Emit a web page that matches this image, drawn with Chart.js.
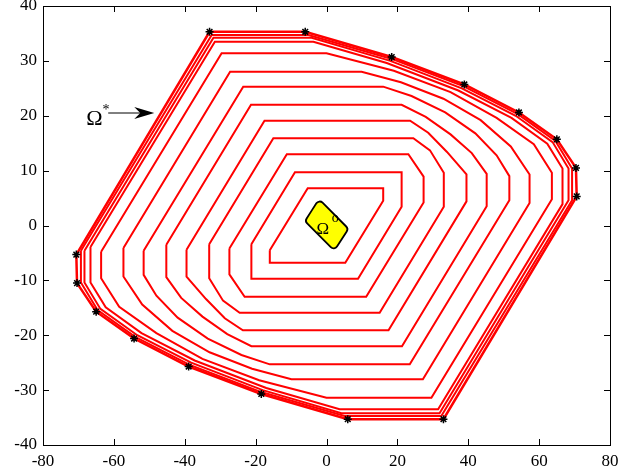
<!DOCTYPE html>
<html>
<head>
<meta charset="utf-8">
<script src="https://cdn.jsdelivr.net/npm/chart.js@4.4.0/dist/chart.umd.min.js"></script>
<style>
  html, body { margin: 0; padding: 0; background: #fff; }
</style>
</head>
<body>
<canvas id="chart" width="639" height="473"></canvas>
<script>
// Contornos (de fuera hacia dentro), vertices [x, y]
const contour01 = [[-70.6,-5.3],[-33,35.3],[-6,35.3],[18.4,30.7],[38.9,25.7],[54.3,20.6],[65,15.7],[70.4,10.5],[70.6,5.3],[33,-35.3],[6,-35.3],[-18.4,-30.7],[-38.9,-25.7],[-54.3,-20.6],[-65,-15.7],[-70.4,-10.5]];
const contour02 = [[-69.3,-4.6],[-32.4,34.7],[-5.1,34.7],[18.2,30.4],[38.6,25.4],[54,20.3],[64.6,15.4],[69.3,10.4],[69.3,4.6],[32.4,-34.7],[5.1,-34.7],[-18.2,-30.4],[-38.6,-25.4],[-54,-20.3],[-64.6,-15.4],[-69.3,-10.4]];
const contour03 = [[-68.3,-4.6],[-31.9,34.2],[-4.2,34.2],[18,30],[38.2,25],[53.4,20],[63.8,15.2],[68.3,10.4],[68.3,4.6],[31.9,-34.2],[4.2,-34.2],[-18,-30],[-38.2,-25],[-53.4,-20],[-63.8,-15.2],[-68.3,-10.4]];
const contour04 = [[-66.6,-3.9],[-31.5,33.5],[-3.7,33.5],[17,29.6],[37.2,24.6],[52.2,19.6],[62.3,14.9],[66.6,10.4],[66.6,3.9],[31.5,-33.5],[3.7,-33.5],[-17,-29.6],[-37.2,-24.6],[-52.2,-19.6],[-62.3,-14.9],[-66.6,-10.4]];
const contour05 = [[-63.6,-4.8],[-29.6,31.4],[0,31.4],[19,28.2],[35,24.3],[48,19.6],[58.5,14.8],[63.6,9.6],[63.6,4.8],[29.6,-31.4],[0,-31.4],[-19,-28.2],[-35,-24.3],[-48,-19.6],[-58.5,-14.8],[-63.6,-9.6]];
const contour06 = [[-57.3,-4.1],[-27.2,28],[9.9,28],[21,26.1],[33,23.1],[43.5,19.2],[52,14.4],[57.3,9.3],[57.3,4.1],[27.2,-28],[-9.9,-28],[-21,-26.1],[-33,-23.1],[-43.5,-19.2],[-52,-14.4],[-57.3,-9.3]];
const contour07 = [[-51.6,-4.6],[-23.5,25.3],[16,25.3],[24,23.6],[33.5,20.6],[42,16.8],[48,12.8],[51.6,9],[51.6,4.6],[23.5,-25.3],[-16,-25.3],[-24,-23.6],[-33.5,-20.6],[-42,-16.8],[-48,-12.8],[-51.6,-9]];
const contour08 = [[-45.2,-3.5],[-21.3,22],[21.2,22],[28,19.8],[35,16.6],[41,13.2],[45.2,9.4],[45.2,3.5],[21.3,-22],[-21.2,-22],[-28,-19.8],[-35,-16.6],[-41,-13.2],[-45.2,-9.4]];
const contour09 = [[-39.5,-4.4],[-17.5,19.1],[23.6,19.1],[28.7,16.9],[34,13.4],[39.5,9.3],[39.5,4.4],[17.5,-19.1],[-23.6,-19.1],[-28.7,-16.9],[-34,-13.4],[-39.5,-9.3]];
const contour10 = [[-33.1,-3.4],[-15,15.9],[24.5,15.9],[29.2,13.7],[33.1,9.6],[33.1,3.4],[15,-15.9],[-24.5,-15.9],[-29.2,-13.7],[-33.1,-9.6]];
const contour11 = [[-27.4,-4.2],[-11.2,13],[23.1,13],[27.4,8.9],[27.4,4.2],[11.2,-13],[-23.1,-13],[-27.4,-8.9]];
const contour12 = [[-21.2,-3.4],[-8.9,9.7],[21.2,9.7],[21.2,3.4],[8.9,-9.7],[-21.2,-9.7]];
const contour13 = [[-16,-4.5],[-5.3,6.8],[16,6.8],[16,4.5],[5.3,-6.8],[-16,-6.8]];

// Conjunto inicial (rombo amarillo)
const omegaO = [[-2.1,4.8],[6.2,-0.6],[2.2,-4.6],[-6.1,0.8]];

// Ejes
const xTicks = [-80, -60, -40, -20, 0, 20, 40, 60, 80];
const yTicks = [-40, -30, -20, -10, 0, 10, 20, 30, 40];

const contours = [contour01, contour02, contour03, contour04, contour05, contour06, contour07,
  contour08, contour09, contour10, contour11, contour12, contour13];

function toPoints(arr, close) {
  const pts = arr.map(p => ({ x: p[0], y: p[1] }));
  if (close) pts.push({ x: arr[0][0], y: arr[0][1] });
  return pts;
}

const datasets = [];
// asteriscos en los vertices del contorno exterior
datasets.push({
  data: toPoints(contour01, false),
  showLine: false,
  pointStyle: "star",
  pointRadius: 4,
  borderColor: "#000",
  borderWidth: 1.5,
  order: 0,
});
contours.forEach((c, i) => {
  datasets.push({
    data: toPoints(c, true),
    showLine: true,
    borderColor: "#ff0000",
    borderWidth: i === 0 ? 2.5 : 2,
    pointRadius: 0,
    tension: 0,
    fill: false,
    order: 1,
  });
});

const serif = "'Liberation Serif', 'DejaVu Serif', serif";

// Marco, ticks interiores y anotaciones
const boxPlugin = {
  id: "boxPlugin",
  afterDatasetsDraw(chart) {
    const { ctx, chartArea: a, scales } = chart;
    const sx = scales.x, sy = scales.y;

    // Omega cero
    ctx.save();
    const pts = omegaO.map(p => [sx.getPixelForValue(p[0]), sy.getPixelForValue(p[1])]);
    const r = 4;
    ctx.beginPath();
    const n = pts.length;
    const mid = (p, q) => [(p[0] + q[0]) / 2, (p[1] + q[1]) / 2];
    const m0 = mid(pts[n - 1], pts[0]);
    ctx.moveTo(m0[0], m0[1]);
    for (let i = 0; i < n; i++) {
      const nxt = pts[(i + 1) % n];
      const m = mid(pts[i], nxt);
      ctx.arcTo(pts[i][0], pts[i][1], m[0], m[1], r);
    }
    ctx.closePath();
    ctx.fillStyle = "#ffff00";
    ctx.fill();
    ctx.lineWidth = 1.8;
    ctx.strokeStyle = "#000";
    ctx.stroke();

    ctx.fillStyle = "#000";
    ctx.font = "17px " + serif;
    ctx.textAlign = "left";
    ctx.textBaseline = "alphabetic";
    ctx.fillText("Ω", sx.getPixelForValue(-2.8), sy.getPixelForValue(-1.5));
    ctx.font = "14px " + serif;
    ctx.fillText("o", sx.getPixelForValue(1.5), sy.getPixelForValue(0.7));

    // Omega estrella con flecha
    ctx.font = "22px " + serif;
    ctx.textAlign = "right";
    ctx.fillText("Ω", sx.getPixelForValue(-63.2), sy.getPixelForValue(18.4));
    ctx.font = "14px " + serif;
    ctx.textAlign = "left";
    ctx.fillText("*", sx.getPixelForValue(-63.2), sy.getPixelForValue(20.3));

    const ax0 = sx.getPixelForValue(-61.6), ax1 = sx.getPixelForValue(-48.6);
    const ay = sy.getPixelForValue(20.5);
    ctx.lineWidth = 1;
    ctx.beginPath();
    ctx.moveTo(ax0, ay);
    ctx.lineTo(ax1 - 10, ay);
    ctx.stroke();
    ctx.beginPath();
    ctx.moveTo(ax1, ay);
    ctx.lineTo(ax1 - 20, ay - 6);
    ctx.lineTo(ax1 - 14, ay);
    ctx.lineTo(ax1 - 20, ay + 6);
    ctx.closePath();
    ctx.fill();

    // marco
    ctx.strokeStyle = "#000";
    ctx.lineWidth = 1;
    ctx.strokeRect(a.left + 0.5, a.top + 0.5, a.right - a.left, a.bottom - a.top);
    const tl = 6;
    ctx.beginPath();
    xTicks.forEach(v => {
      const px = Math.round(sx.getPixelForValue(v)) + 0.5;
      ctx.moveTo(px, a.bottom); ctx.lineTo(px, a.bottom - tl);
      ctx.moveTo(px, a.top); ctx.lineTo(px, a.top + tl);
    });
    yTicks.forEach(v => {
      const py = Math.round(sy.getPixelForValue(v)) + 0.5;
      ctx.moveTo(a.left, py); ctx.lineTo(a.left + tl, py);
      ctx.moveTo(a.right, py); ctx.lineTo(a.right - tl, py);
    });
    ctx.stroke();
    ctx.restore();
  },
};

new Chart(document.getElementById("chart"), {
  type: "scatter",
  data: { datasets: datasets },
  options: {
    responsive: false,
    animation: false,
    devicePixelRatio: 1,
    layout: { padding: { left: 0, right: 29, top: 6, bottom: 0 } },
    plugins: { legend: { display: false }, tooltip: { enabled: false } },
    scales: {
      x: {
        type: "linear",
        min: -80,
        max: 80,
        afterBuildTicks: s => { s.ticks = xTicks.map(v => ({ value: v })); },
        afterFit: s => { s.height = 28; s.paddingLeft = 0; s.paddingRight = 0; },
        grid: { display: false, drawTicks: false },
        border: { display: false },
        ticks: { color: "#000", padding: 6, maxRotation: 0, font: { family: serif, size: 17 } },
      },
      y: {
        type: "linear",
        min: -40,
        max: 40,
        afterBuildTicks: s => { s.ticks = yTicks.map(v => ({ value: v })); },
        afterFit: s => { s.width = 43; s.paddingTop = 0; s.paddingBottom = 0; },
        grid: { display: false, drawTicks: false },
        border: { display: false },
        ticks: { color: "#000", padding: 6, font: { family: serif, size: 17 } },
      },
    },
  },
  plugins: [boxPlugin],
});
</script>
</body>
</html>
